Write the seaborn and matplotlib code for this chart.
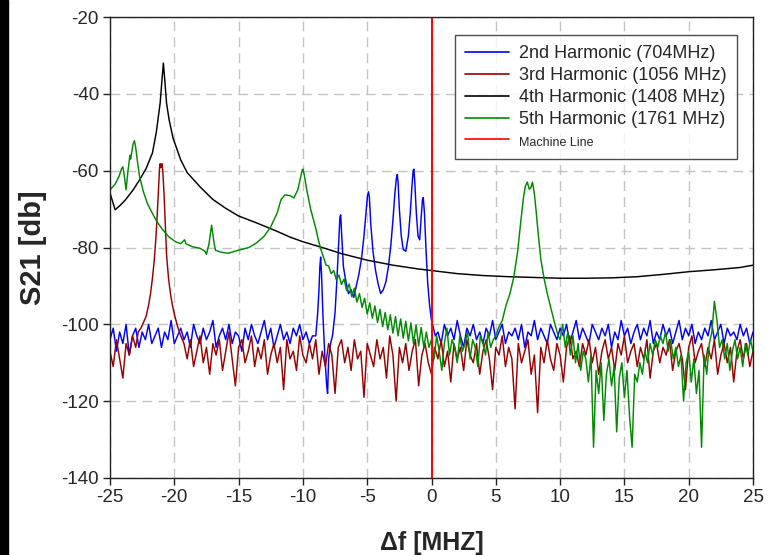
import numpy as np
import matplotlib
matplotlib.use("Agg")
import matplotlib.pyplot as plt
from matplotlib.patches import Rectangle
import seaborn as sns

# ---------------- data ----------------
# 2nd harmonic (blue): noise floor left, resonance comb, noise floor right
blue_left = [-104, -101, -107, -102, -105, -100, -108, -103, -101, -106,
             -102, -104, -100, -105, -103, -101, -106, -102, -104, -99,
             -105, -103, -101, -104, -102, -106, -100, -103, -105, -101,
             -104, -102, -99, -106, -103, -101, -104, -100, -105, -102,
             -103, -107, -101, -104, -100, -103, -105, -102, -99, -104,
             -101, -106, -103, -100, -104, -102, -105, -101, -103, -100,
             -104, -102, -105, -103]
blue_left_start, blue_step = -25.0, 0.25
blue_peak_x = [-9.0, -8.85, -8.75, -8.68, -8.62, -8.55, -8.45, -8.3, -8.15, -8.08,
               -8.0, -7.85, -7.7, -7.5, -7.35, -7.22, -7.12, -7.06, -6.98, -6.85,
               -6.65, -6.45, -6.25, -6.05, -5.85, -5.65, -5.45, -5.25, -5.1, -4.98,
               -4.9, -4.83, -4.72, -4.55, -4.35, -4.15, -3.95, -3.75, -3.55, -3.35,
               -3.15, -2.98, -2.85, -2.73, -2.66, -2.6, -2.5, -2.35, -2.2, -2.0,
               -1.8, -1.65, -1.52, -1.43, -1.37, -1.3, -1.18, -1.05, -0.92, -0.8,
               -0.7, -0.64, -0.55, -0.42, -0.3, -0.15, 0.0, 0.15, 0.3]
blue_peak_y = [-103, -97, -91, -85, -82.5, -87, -97, -108, -116, -118,
               -109, -105, -103, -97, -88, -79, -72, -71.5, -77, -85,
               -89, -92, -91, -93, -90, -87, -83, -77, -71, -66.5,
               -65.5, -67, -74, -81, -86, -89.5, -92, -91, -89, -85,
               -79, -72, -66, -62, -61, -63, -70, -77, -80.5, -81,
               -77, -71, -64, -60, -59.6, -63, -71, -77, -78, -72,
               -67.5, -67, -71, -81, -89, -95, -99, -101, -103]
blue_right = [-102, -105, -100, -103, -101, -104, -99, -103, -106, -101,
              -103, -100, -104, -102, -105, -101, -103, -99, -104, -102,
              -100, -105, -102, -103, -101, -104, -100, -106, -102, -103,
              -99, -104, -101, -103, -105, -100, -102, -104, -101, -103,
              -100, -105, -102, -99, -104, -101, -103, -105, -100, -102,
              -104, -101, -103, -100, -106, -102, -104, -99, -103, -101,
              -105, -102, -100, -104, -101, -103, -99, -105, -102, -104,
              -100, -103, -101, -105, -102, -99, -104, -101, -103, -100,
              -105, -102, -104, -101, -103, -99, -104, -102, -100, -105,
              -101, -103, -102, -104, -100, -103, -101, -105, -102]
blue_right_start = 0.5

# 3rd harmonic (dark red)
red_left = [-107, -111, -104, -109, -114, -105, -108, -103, -106]
red_left_start, red_step = -25.0, 0.25
red_peak_x = [-22.8, -22.6, -22.4, -22.2, -22.0, -21.85, -21.7, -21.55, -21.42, -21.32,
              -21.22, -21.15, -21.1, -21.05, -21.0, -20.95, -20.88, -20.8, -20.7, -20.6,
              -20.45, -20.3, -20.15, -19.95, -19.75, -19.5]
red_peak_y = [-102, -101, -99.5, -98, -95, -92, -88, -83, -77, -71,
              -64, -59.5, -58.2, -59.2, -58.4, -58.2, -61, -66, -74, -82,
              -88, -92, -95, -98, -100.5, -103]
red_right = [-105, -109, -104, -111, -107, -103, -110, -106, -113, -105,
             -108, -104, -112, -107, -102, -109, -116, -106, -104, -110,
             -107, -103, -111, -106, -109, -104, -113, -108, -105, -110,
             -106, -117, -104, -109, -107, -112, -103, -108, -110, -105,
             -109, -104, -113, -107, -111, -105, -108, -118, -106, -104,
             -110, -106, -112, -104, -109, -107, -119, -105, -108, -111,
             -104, -109, -106, -114, -103, -108, -120, -106, -110, -105,
             -112, -107, -104, -116, -108, -105, -110, -113, -106, -109,
             -104, -111, -107, -115, -105, -109, -106, -112, -104, -108,
             -110, -105, -113, -107, -104, -109, -117, -106, -108, -103,
             -111, -106, -109, -122, -105, -110, -107, -104, -113, -108,
             -123, -106, -110, -104, -109, -112, -105, -108, -115, -106,
             -103, -109, -107, -111, -105, -108, -104, -110, -106, -113,
             -107, -104, -109, -106, -112, -105, -108, -103, -110, -107,
             -105, -111, -106, -109, -104, -114, -107, -105, -110, -106,
             -108, -104, -112, -107, -105, -109, -117, -106, -103, -110,
             -107, -105, -111, -106, -109, -104, -113, -108, -105, -110,
             -106, -115, -107, -104, -109, -105, -111, -107]
red_right_start = -19.25

# 4th harmonic (black)
black_x = [-25, -24.6, -24.2, -23.8, -23.2, -22.7, -22.2, -21.7, -21.4, -21.1,
           -20.95, -20.85, -20.75, -20.6, -20.4, -20.1, -19.5, -19.0, -18.0, -17.0,
           -16.0, -15.0, -13.6, -12.0, -11.0, -10.0, -8.4, -7.0, -5.0, -3.0,
           -1.0, 0.0, 2.0, 4.0, 6.0, 8.0, 10.0, 12.0, 14.0, 16.0,
           18.0, 20.0, 22.0, 24.0, 25.0]
black_y = [-65.8, -70.2, -69, -67.6, -65, -62.4, -59.5, -55.4, -50, -42.4,
           -36, -32, -36, -42.5, -46.8, -51.5, -57.2, -60.5, -64.2, -67.5,
           -69.8, -71.8, -73.6, -75.8, -77.3, -78.5, -80.1, -81.6, -83.3, -84.6,
           -85.6, -86, -86.8, -87.3, -87.6, -87.8, -88, -88, -87.9, -87.6,
           -87, -86.3, -85.8, -85.2, -84.6]

# 5th harmonic (green)
green_smooth_x = [-25, -24.6, -24.3, -24.1, -24.0, -23.9, -23.75, -23.6, -23.45, -23.4,
                  -23.3, -23.2, -23.1, -23.0, -22.85, -22.7, -22.4, -22.1, -21.8, -21.4,
                  -20.9, -20.4, -19.9, -19.5, -19.2, -19.1, -18.6, -18.0, -17.6, -17.5,
                  -17.3, -17.1, -16.9, -16.8, -16.4, -15.8, -15.0, -14.2, -13.6, -13.0,
                  -12.5, -12.0, -11.7, -11.4, -11.0, -10.7, -10.4, -10.2, -10.05, -10.0,
                  -9.9, -9.7, -9.4, -9.0, -8.8]
green_smooth_y = [-65, -63.5, -61.5, -59.5, -59, -61, -65, -60, -56, -57,
                  -55, -53, -52.2, -54, -58, -61.6, -65.5, -68.5, -70.5, -73,
                  -75.4, -77.3, -78.5, -79, -78, -79, -79.8, -80.2, -81, -81.8,
                  -79, -74.2, -79, -80.7, -81.2, -81.5, -80.7, -80, -78.8, -77,
                  -74.6, -71, -67.5, -66.3, -66.5, -67.1, -65, -62, -59.8, -59.6,
                  -61, -65, -70, -75, -78]
green_tail = [-80.5, -82.5, -84.6, -84.8, -86.8, -86.0, -88.4, -87.2, -89.6, -88.2,
              -91.2, -89.5, -92.8, -90.6, -94.2, -92.0, -95.6, -93.2, -97.3, -94.4,
              -98.4, -95.2, -99.5, -96.1, -100.6, -96.9, -101.4, -97.5, -102.3, -98.0,
              -103.0, -98.6, -103.6, -99.2, -104.3, -99.6, -105.0, -100.2, -105.6, -100.8,
              -105.9]
green_tail_start, green_step = -8.6, 0.2
green_mid = [-102, -106, -104, -109, -103, -107, -112, -105, -101, -108,
             -104, -106, -110, -103, -107, -105, -102, -109, -104, -106,
             -111, -103, -105, -108, -102, -106, -104, -103]
green_mid_start = -0.4
green_pk_x = [5.2, 5.5, 5.8, 6.1, 6.4, 6.7, 6.95, 7.15, 7.3, 7.45,
              7.6, 7.72, 7.85, 8.0, 8.15, 8.3, 8.5, 8.75, 9.0, 9.3,
              9.6, 9.85]
green_pk_y = [-101, -99, -95, -92, -87.7, -81, -73, -67, -64, -63,
              -64.8, -64.5, -63, -66, -71, -76.5, -83, -88, -92, -96,
              -100, -103]
green_right = [-104, -100, -106, -102, -108, -103, -110, -105, -112, -107,
               -109, -115, -108, -132, -112, -118, -110, -125, -113, -109,
               -116, -111, -128, -114, -110, -119, -112, -124, -132, -113,
               -115, -110, -113, -107, -110, -105, -108, -104, -106, -103,
               -105, -102, -107, -104, -109, -106, -111, -108, -120, -110,
               -107, -115, -109, -118, -112, -132, -108, -113, -105, -102,
               -94, -99, -106, -104, -109, -105, -112, -107, -104, -109,
               -106, -111, -105, -108, -104, -107]
green_right_start = 10.0

machine_x = [0, 0]
machine_y = [-140, -20]

labels = ["2nd Harmonic (704MHz)", "3rd Harmonic (1056 MHz)",
          "4th Harmonic (1408 MHz)", "5th Harmonic (1761 MHz)", "Machine Line"]
colors = ["#0000ff", "#990000", "#000000", "#008a00", "#ff0000"]
x_ticks = [-25, -20, -15, -10, -5, 0, 5, 10, 15, 20, 25]
y_ticks = [-140, -120, -100, -80, -60, -40, -20]


def grid_x(start, step, vals):
    return start + step * np.arange(len(vals))


blue_x = np.concatenate([grid_x(blue_left_start, blue_step, blue_left), blue_peak_x,
                         grid_x(blue_right_start, blue_step, blue_right)])
blue_y = np.concatenate([blue_left, blue_peak_y, blue_right])
red_x = np.concatenate([grid_x(red_left_start, red_step, red_left), red_peak_x,
                        grid_x(red_right_start, red_step, red_right)])
red_y = np.concatenate([red_left, red_peak_y, red_right])
green_x = np.concatenate([green_smooth_x, grid_x(green_tail_start, green_step, green_tail),
                          grid_x(green_mid_start, green_step, green_mid), green_pk_x,
                          grid_x(green_right_start, green_step, green_right)])
green_y = np.concatenate([green_smooth_y, green_tail, green_mid, green_pk_y, green_right])

# ---------------- plot ----------------
sns.set_theme(style="white")
plt.rcParams["font.family"] = ["Liberation Sans", "DejaVu Sans"]
plt.rcParams["axes.unicode_minus"] = False

fig = plt.figure(figsize=(7.71, 5.55), dpi=100)
W, H = 771, 555
ax = fig.add_axes([110 / W, 1 - 478 / H, (753 - 110) / W, (478 - 17) / H])

series = [(blue_x, blue_y), (red_x, red_y), (np.array(black_x), np.array(black_y)),
          (green_x, green_y)]
for (xs, ys), lab, col in zip(series, labels[:4], colors[:4]):
    sns.lineplot(x=xs, y=ys, ax=ax, color=col, lw=1.05, label=lab,
                 estimator=None, sort=False)
sns.lineplot(x=machine_x, y=machine_y, ax=ax, color=colors[4], lw=1.4,
             label=labels[4], estimator=None, sort=False)

ax.set_xlim(-25, 25)
ax.set_ylim(-140, -20)
ax.set_xticks(x_ticks)
ax.set_yticks(y_ticks)
ax.grid(True, color="#c4c4c4", linestyle=(0, (7, 4.5)), lw=1.0)
ax.set_axisbelow(True)
for s in ax.spines.values():
    s.set_color("#222222")
    s.set_linewidth(1.0)
ax.tick_params(axis="both", direction="out", length=5, width=1, color="#222222",
               labelsize=13.5, pad=3, bottom=True, left=True)

ax.set_xlabel("Δf [MHZ]", fontsize=18, fontweight="bold", labelpad=18)
ax.set_ylabel("S21 [db]", fontsize=21, fontweight="bold", labelpad=10)

leg = ax.legend(loc="upper right", bbox_to_anchor=((737 - 110) / 643, 1 - (35 - 17) / 461),
                borderaxespad=0, frameon=True, fancybox=False, fontsize=13,
                handlelength=2.4, handletextpad=0.6, borderpad=0.55, labelspacing=0.28)
leg.get_frame().set_edgecolor("#222222")
leg.get_frame().set_linewidth(1.0)
leg.get_texts()[4].set_fontsize(9)
for lh in leg.get_lines():
    lh.set_linewidth(1.2)

# dark frame edge of the original screenshot
fig.add_artist(Rectangle((0, 0), 8 / W, 1, transform=fig.transFigure,
                         color="black", zorder=10))

fig.savefig("out.png", dpi=100)
